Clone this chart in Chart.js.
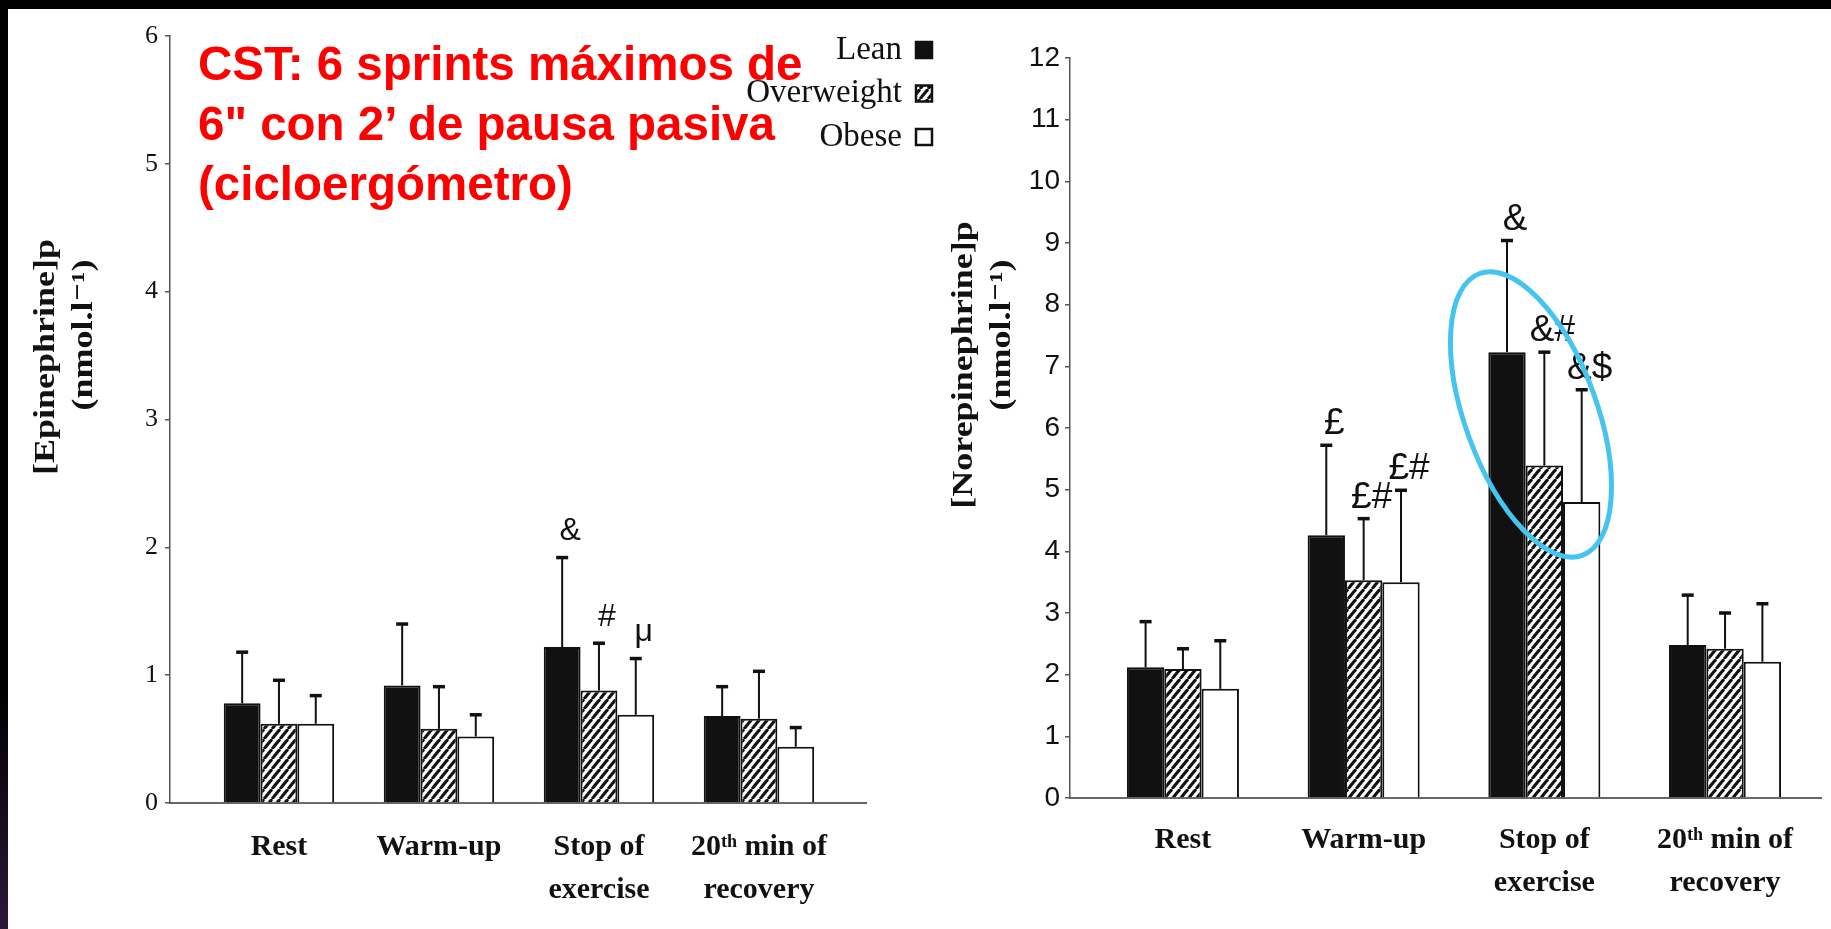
<!DOCTYPE html>
<html>
<head>
<meta charset="utf-8">
<script src="https://cdn.jsdelivr.net/npm/chart.js"></script>
<style>
  html, body { margin: 0; padding: 0; background: #000; }
  body { width: 1831px; height: 929px; position: relative; overflow: hidden; }
  #strip { position: absolute; left: 0; top: 0; width: 8px; height: 929px;
           background: linear-gradient(to bottom, #000 0%, #000 74%, #2a1838 100%); }
  #sheet { position: absolute; left: 8px; top: 9px; width: 1823px; height: 920px; background: #fff; }
  canvas { position: absolute; top: 9px; }
  #epi { left: 8px; }
  #nor { left: 940px; }
  #note { position: absolute; left: 198px; top: 34px; color: #f00; white-space: nowrap;
          font: bold 47.5px "Liberation Sans", Arial, sans-serif; line-height: 60px; }
</style>
</head>
<body>
<div id="strip"></div>
<div id="sheet"></div>
<canvas id="epi" width="932" height="920"></canvas>
<canvas id="nor" width="891" height="920"></canvas>
<div id="note">CST: 6 sprints máximos de<br>6" con 2’ de pausa pasiva<br>(cicloergómetro)</div>
<script>
const categories = [['Rest'], ['Warm-up'], ['Stop of', 'exercise'], ['20ᵗʰ min of', 'recovery']];
const groups = ['Lean', 'Overweight', 'Obese'];

// [Epinephrine]p, nmol.l-1 : means and SD (upper bar only)
const epiLean = [0.78, 0.92, 1.22, 0.68];
const epiOver = [0.62, 0.58, 0.88, 0.66];
const epiObese = [0.62, 0.52, 0.69, 0.44];
const epiLeanSd = [0.40, 0.48, 0.70, 0.23];
const epiOverSd = [0.34, 0.33, 0.37, 0.37];
const epiObeseSd = [0.22, 0.17, 0.44, 0.15];
const epiLeanMarks = ['', '', '&', ''];
const epiOverMarks = ['', '', '#', ''];
const epiObeseMarks = ['', '', 'μ', ''];
const epiTicks = [0, 1, 2, 3, 4, 5, 6];

// [Norepinephrine]p, nmol.l-1
const norLean = [2.12, 4.26, 7.23, 2.48];
const norOver = [2.09, 3.53, 5.39, 2.42];
const norObese = [1.77, 3.50, 4.80, 2.21];
const norLeanSd = [0.74, 1.46, 1.81, 0.81];
const norOverSd = [0.33, 1.00, 1.84, 0.58];
const norObeseSd = [0.78, 1.49, 1.82, 0.94];
const norLeanMarks = ['', '£', '&', ''];
const norOverMarks = ['', '£#', '&#', ''];
const norObeseMarks = ['', '£#', '&$', ''];
const norTicks = [0, 1, 2, 3, 4, 5, 6, 7, 8, 9, 10, 11, 12];

function hatch() {
  const w = 8, h = 10;
  const c = document.createElement('canvas');
  c.width = w; c.height = h;
  const g = c.getContext('2d');
  g.fillStyle = '#fff';
  g.fillRect(0, 0, w, h);
  g.strokeStyle = '#111';
  g.lineWidth = 3;
  [-w, 0, w].forEach(o => {
    g.beginPath(); g.moveTo(o, h); g.lineTo(o + w, 0); g.stroke();
  });
  return g.createPattern(c, 'repeat');
}
const fills = ['#111', hatch(), '#fff'];

// error bars, significance marks, axis titles, legend and the highlight ring
const extras = {
  id: 'extras',
  afterDatasetsDraw(chart, args, opts) {
    const ctx = chart.ctx, y = chart.scales.y, x = chart.scales.x;
    ctx.save();
    chart.data.datasets.forEach((ds, d) => {
      chart.getDatasetMeta(d).data.forEach((bar, i) => {
        const top = y.getPixelForValue(ds.data[i].y + ds.sd[i]);
        ctx.strokeStyle = '#111';
        ctx.lineWidth = 2;
        ctx.beginPath(); ctx.moveTo(bar.x, bar.y); ctx.lineTo(bar.x, top); ctx.stroke();
        ctx.lineWidth = 3.5;
        ctx.beginPath(); ctx.moveTo(bar.x - 6, top); ctx.lineTo(bar.x + 6, top); ctx.stroke();
        if (ds.marks[i]) {
          ctx.fillStyle = '#111';
          ctx.font = opts.markFont;
          ctx.textAlign = 'center';
          ctx.textBaseline = 'middle';
          ctx.fillText(ds.marks[i], bar.x + 8, top - opts.markGap);
        }
      });
    });

    opts.titles.forEach(t => {
      ctx.save();
      ctx.translate(t.x, t.y);
      ctx.rotate(-Math.PI / 2);
      ctx.scale(1.2, 1);
      ctx.font = 'bold 30px "Liberation Serif", "DejaVu Serif", serif';
      ctx.fillStyle = '#111';
      ctx.textAlign = 'center';
      ctx.textBaseline = 'middle';
      ctx.fillText(t.text, 0, 0);
      ctx.restore();
    });

    if (opts.legend) {
      const L = opts.legend;
      chart.data.datasets.forEach((ds, d) => {
        const cy = L.top + d * L.gap;
        ctx.font = '33px "Liberation Serif", serif';
        ctx.fillStyle = '#111';
        ctx.textAlign = 'right';
        ctx.textBaseline = 'middle';
        ctx.fillText(ds.label, L.right, cy);
        ctx.fillStyle = ds.backgroundColor;
        ctx.fillRect(L.right + 14, cy - 8, 16, 16);
        ctx.strokeStyle = '#111';
        ctx.lineWidth = 2.5;
        ctx.strokeRect(L.right + 14, cy - 8, 16, 16);
      });
    }

    if (opts.ring) {
      const r = opts.ring;
      ctx.strokeStyle = '#45c4f0';
      ctx.lineWidth = 5;
      ctx.beginPath();
      ctx.ellipse(x.getPixelForValue(r.x), y.getPixelForValue(r.y), r.rx, r.ry, r.angle * Math.PI / 180, 0, 2 * Math.PI);
      ctx.stroke();
    }
    ctx.restore();
  }
};

function barChart(id, cfg) {
  return new Chart(document.getElementById(id), {
    type: 'bar',
    data: {
      datasets: cfg.means.map((m, d) => ({
        label: groups[d],
        data: m.map((v, i) => ({ x: i, y: v })),
        sd: cfg.sds[d],
        marks: cfg.marks[d],
        backgroundColor: fills[d],
        borderColor: '#111',
        borderWidth: 2,
        categoryPercentage: cfg.catPct,
        barPercentage: 1
      }))
    },
    options: {
      responsive: false,
      animation: false,
      layout: { padding: cfg.padding },
      plugins: {
        legend: { display: false },
        tooltip: { enabled: false },
        extras: cfg.extras
      },
      scales: {
        x: {
          type: 'linear',
          min: cfg.xMin,
          max: cfg.xMax,
          offset: false,
          afterBuildTicks: s => { s.ticks = categories.map((c, i) => ({ value: i })); },
          afterFit: s => { s.height = cfg.xHeight; },
          ticks: {
            autoSkip: false,
            maxRotation: 0,
            padding: cfg.xPad,
            color: '#111',
            font: { family: '"Liberation Serif", serif', weight: 'bold', size: 30, lineHeight: 1.45 },
            callback: v => categories[v]
          },
          grid: { drawOnChartArea: false, drawTicks: false },
          border: { color: '#666', width: 2 }
        },
        y: {
          min: 0,
          max: cfg.yTicks[cfg.yTicks.length - 1],
          afterBuildTicks: s => { s.ticks = cfg.yTicks.map(v => ({ value: v })); },
          afterFit: s => { s.width = cfg.yWidth; },
          ticks: { color: '#111', padding: cfg.yPad, font: cfg.yFont },
          grid: { drawOnChartArea: false, drawTicks: true, tickLength: 5, color: '#555', lineWidth: 1.5 },
          border: { color: '#555', width: 1.5 }
        }
      }
    },
    plugins: [extras]
  });
}

barChart('epi', {
  means: [epiLean, epiOver, epiObese],
  sds: [epiLeanSd, epiOverSd, epiObeseSd],
  marks: [epiLeanMarks, epiOverMarks, epiObeseMarks],
  yTicks: epiTicks,
  catPct: 0.69,
  xMin: -0.681, xMax: 3.669,
  padding: { left: 0, right: 74, top: 27, bottom: 0 },
  yWidth: 162, xHeight: 126, xPad: 22, yPad: 7,
  yFont: { family: '"Liberation Serif", serif', size: 26 },
  extras: {
    markFont: '32px "Liberation Sans", sans-serif',
    markGap: 26,
    titles: [
      { text: '[Epinephrine]p', x: 38, y: 348 },
      { text: '(nmol.l⁻¹)', x: 76, y: 326 }
    ],
    legend: { right: 894, top: 41, gap: 43.5 }
  }
});

barChart('nor', {
  means: [norLean, norOver, norObese],
  sds: [norLeanSd, norOverSd, norObeseSd],
  marks: [norLeanMarks, norOverMarks, norObeseMarks],
  yTicks: norTicks,
  catPct: 0.62,
  xMin: -0.625, xMax: 3.531,
  padding: { left: 0, right: 10, top: 49, bottom: 0 },
  yWidth: 130, xHeight: 131, xPad: 20, yPad: 5,
  yFont: { family: '"Liberation Sans", sans-serif', size: 28 },
  extras: {
    markFont: '37px "Liberation Sans", sans-serif',
    markGap: 21,
    titles: [
      { text: '[Norepinephrine]p', x: 24, y: 356 },
      { text: '(nmol.l⁻¹)', x: 62, y: 326 }
    ],
    ring: { x: 1.926, y: 6.22, rx: 66, ry: 150, angle: -20 }
  }
});
</script>
</body>
</html>
